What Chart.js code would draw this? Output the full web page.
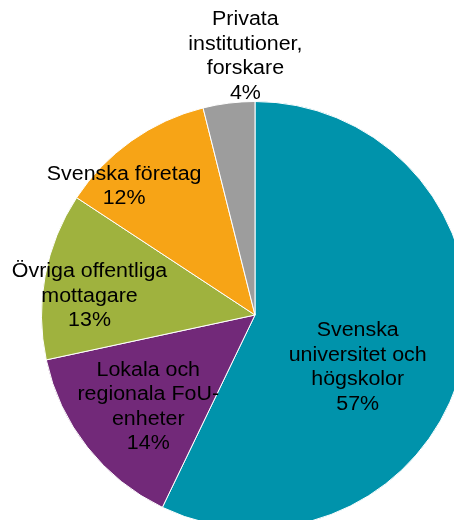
<!DOCTYPE html>
<html>
<head>
<meta charset="utf-8">
<script src="https://cdn.jsdelivr.net/npm/chart.js@4"></script>
<style>
  html, body { margin: 0; padding: 0; background: #fff; overflow: hidden; width: 454px; height: 520px; }
  #wrap { position: absolute; left: 0; top: 0; width: 510px; height: 560px; }
</style>
</head>
<body>
<div id="wrap"><canvas id="pie" width="510" height="560"></canvas></div>
<script>
// kategorier (radbrytningar som i originalet)
const categories = [
  ['Svenska', 'universitet och', 'högskolor'],
  ['Lokala och', 'regionala FoU-', 'enheter'],
  ['Övriga offentliga', 'mottagare'],
  ['Svenska företag'],
  ['Privata', 'institutioner,', 'forskare']
];
const shares = [57.0, 14.45, 12.6, 11.8, 3.9];
const colors = ['#0093ab', '#722979', '#9fb23e', '#f7a416', '#9d9d9d'];

// etikettens mittpunkt relativt tårtans centrum, i enheter av radien
const labelOffsets = [[0.481, 0.246], [-0.5, 0.43], [-0.775, -0.089], [-0.613, -0.603], [-0.045, -1.211]];

const sliceLabels = {
  id: 'sliceLabels',
  afterDatasetsDraw(chart) {
    const ctx = chart.ctx;
    const arcs = chart.getDatasetMeta(0).data;
    ctx.save();
    ctx.fillStyle = '#000';
    ctx.font = '20px "Liberation Sans", Arial, sans-serif';
    ctx.textAlign = 'center';
    ctx.textBaseline = 'middle';
    const lh = 24.5;
    arcs.forEach((arc, i) => {
      const r = arc.outerRadius;
      const lines = categories[i].concat([Math.round(shares[i]) + '%']);
      const cx = arc.x + labelOffsets[i][0] * r;
      const cy = arc.y + labelOffsets[i][1] * r;
      const y0 = cy - (lines.length - 1) * lh / 2;
      lines.forEach((t, j) => {
        ctx.save();
        ctx.translate(cx, y0 + j * lh);
        ctx.scale(1.07, 1);   // originalets text är lite bredare
        ctx.fillText(t, 0, 0);
        ctx.restore();
      });
    });
    ctx.restore();
  }
};

new Chart(document.getElementById('pie'), {
  type: 'pie',
  data: {
    labels: categories,
    datasets: [{
      data: shares,
      backgroundColor: colors,
      borderColor: '#ffffff',
      borderWidth: 1
    }]
  },
  options: {
    responsive: false,
    animation: false,
    layout: { padding: { left: 41, top: 101, right: 41, bottom: 31 } },
    plugins: { legend: { display: false }, tooltip: { enabled: false } }
  },
  plugins: [sliceLabels]
});
</script>
</body>
</html>
